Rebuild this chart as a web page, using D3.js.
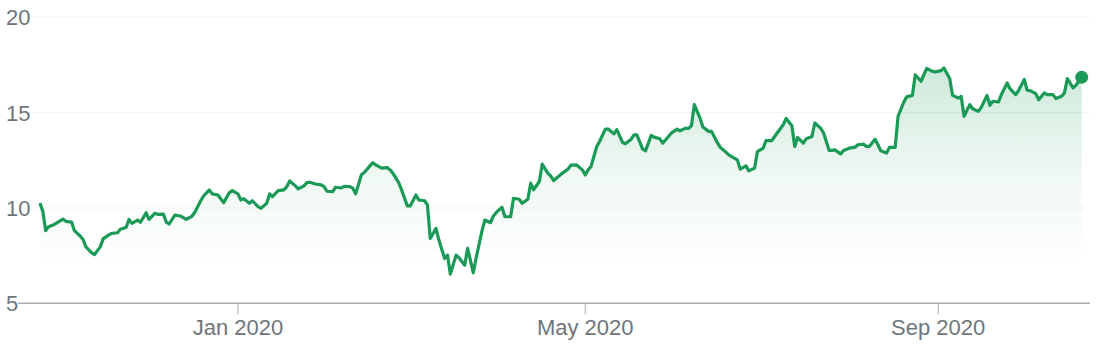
<!DOCTYPE html>
<html><head><meta charset="utf-8">
<script src="https://cdn.jsdelivr.net/npm/d3@7"></script>
<style>
html,body{margin:0;padding:0;background:#fff;}
svg{display:block;font-family:"Liberation Sans",Arial,sans-serif;}
</style></head>
<body><svg id="c" width="1099" height="348"></svg>
<script>
const dates = ["2019-10-24","2019-10-25","2019-10-26","2019-10-27","2019-10-29","2019-11-01","2019-11-02","2019-11-04","2019-11-05","2019-11-07","2019-11-08","2019-11-09","2019-11-11","2019-11-12","2019-11-14","2019-11-15","2019-11-17","2019-11-18","2019-11-20","2019-11-21","2019-11-23","2019-11-24","2019-11-25","2019-11-27","2019-11-28","2019-11-30","2019-12-01","2019-12-03","2019-12-04","2019-12-06","2019-12-07","2019-12-08","2019-12-10","2019-12-12","2019-12-14","2019-12-16","2019-12-17","2019-12-19","2019-12-20","2019-12-22","2019-12-23","2019-12-25","2019-12-27","2019-12-29","2019-12-30","2020-01-01","2020-01-02","2020-01-03","2020-01-05","2020-01-06","2020-01-08","2020-01-09","2020-01-11","2020-01-12","2020-01-13","2020-01-15","2020-01-17","2020-01-18","2020-01-19","2020-01-21","2020-01-22","2020-01-24","2020-01-25","2020-01-26","2020-01-28","2020-01-30","2020-01-31","2020-02-01","2020-02-03","2020-02-04","2020-02-06","2020-02-07","2020-02-09","2020-02-10","2020-02-11","2020-02-13","2020-02-14","2020-02-16","2020-02-17","2020-02-18","2020-02-20","2020-02-22","2020-02-23","2020-02-24","2020-02-26","2020-02-27","2020-02-29","2020-03-01","2020-03-03","2020-03-04","2020-03-06","2020-03-07","2020-03-08","2020-03-10","2020-03-11","2020-03-13","2020-03-14","2020-03-15","2020-03-17","2020-03-18","2020-03-20","2020-03-21","2020-03-23","2020-03-24","2020-03-26","2020-03-27","2020-03-29","2020-03-30","2020-03-31","2020-04-02","2020-04-03","2020-04-05","2020-04-06","2020-04-08","2020-04-09","2020-04-11","2020-04-12","2020-04-13","2020-04-15","2020-04-16","2020-04-18","2020-04-19","2020-04-20","2020-04-23","2020-04-25","2020-04-26","2020-04-28","2020-04-30","2020-05-01","2020-05-02","2020-05-03","2020-05-05","2020-05-06","2020-05-08","2020-05-09","2020-05-11","2020-05-12","2020-05-14","2020-05-15","2020-05-17","2020-05-18","2020-05-19","2020-05-21","2020-05-22","2020-05-24","2020-05-25","2020-05-27","2020-05-28","2020-05-30","2020-05-31","2020-06-02","2020-06-03","2020-06-05","2020-06-06","2020-06-07","2020-06-08","2020-06-10","2020-06-11","2020-06-13","2020-06-14","2020-06-16","2020-06-17","2020-06-19","2020-06-20","2020-06-21","2020-06-23","2020-06-24","2020-06-26","2020-06-27","2020-06-29","2020-06-30","2020-07-02","2020-07-03","2020-07-05","2020-07-06","2020-07-07","2020-07-09","2020-07-10","2020-07-12","2020-07-13","2020-07-14","2020-07-16","2020-07-17","2020-07-19","2020-07-20","2020-07-22","2020-07-23","2020-07-25","2020-07-26","2020-07-27","2020-07-29","2020-07-30","2020-08-01","2020-08-03","2020-08-04","2020-08-06","2020-08-07","2020-08-08","2020-08-10","2020-08-11","2020-08-12","2020-08-14","2020-08-15","2020-08-17","2020-08-18","2020-08-20","2020-08-21","2020-08-23","2020-08-24","2020-08-26","2020-08-27","2020-08-28","2020-08-30","2020-08-31","2020-09-02","2020-09-03","2020-09-05","2020-09-06","2020-09-08","2020-09-09","2020-09-10","2020-09-12","2020-09-13","2020-09-15","2020-09-16","2020-09-18","2020-09-19","2020-09-20","2020-09-22","2020-09-23","2020-09-25","2020-09-26","2020-09-28","2020-09-29","2020-10-01","2020-10-02","2020-10-03","2020-10-05","2020-10-06","2020-10-08","2020-10-09","2020-10-11","2020-10-12","2020-10-14","2020-10-15","2020-10-16","2020-10-18","2020-10-19","2020-10-21"];
const prices = [10.26,9.81,8.81,9.02,9.14,9.42,9.30,9.26,8.81,8.53,8.35,7.96,7.65,7.56,7.96,8.38,8.59,8.67,8.70,8.88,8.98,9.40,9.19,9.37,9.25,9.75,9.40,9.72,9.67,9.68,9.26,9.16,9.63,9.58,9.40,9.58,9.79,10.38,10.63,10.95,10.74,10.68,10.28,10.81,10.91,10.74,10.42,10.49,10.25,10.38,10.07,9.98,10.25,10.74,10.60,10.91,10.95,11.12,11.42,11.16,11.00,11.16,11.33,11.35,11.26,11.21,11.12,10.88,10.86,11.09,11.05,11.14,11.12,11.04,10.74,11.74,11.86,12.21,12.38,12.26,12.09,12.12,12.00,11.82,11.33,10.95,10.11,10.11,10.68,10.42,10.38,10.16,8.40,8.93,8.32,7.35,7.53,6.53,7.53,7.39,7.00,7.88,6.60,7.40,8.79,9.37,9.23,9.58,9.77,10.04,9.54,9.54,10.51,10.46,10.25,10.46,11.30,10.95,11.39,12.30,11.82,11.68,11.44,11.82,12.04,12.25,12.26,12.00,11.74,12.00,12.18,13.23,13.49,14.14,14.14,13.89,14.11,13.44,13.37,13.61,13.84,13.84,13.09,13.00,13.81,13.72,13.63,13.40,13.75,13.93,14.14,14.05,14.19,14.17,14.32,15.42,14.72,14.25,14.02,14.02,13.44,13.19,12.93,12.79,12.70,12.53,12.04,12.21,11.95,12.09,12.96,13.14,13.54,13.54,13.75,13.96,14.37,14.70,14.32,13.23,13.70,13.40,13.63,13.75,14.46,14.19,13.96,13.02,13.02,13.05,12.84,13.02,13.14,13.19,13.32,13.35,13.23,13.23,13.61,13.32,13.00,12.88,13.18,13.18,14.81,15.55,15.83,15.91,16.99,16.65,16.99,17.32,17.17,17.14,17.21,17.35,16.79,15.91,15.77,15.86,14.81,15.42,15.21,15.07,15.28,15.91,15.39,15.60,15.56,15.95,16.56,16.26,15.95,16.16,16.74,16.17,16.16,16.00,15.68,16.04,15.95,15.95,15.74,15.86,16.04,16.79,16.30,16.44,16.86];
const yTicks = [5, 10, 15, 20];
const xTickDates = ["2020-01-01", "2020-05-01", "2020-09-01"];
const xTickLabels = ["Jan 2020", "May 2020", "Sep 2020"];

const parse = d3.timeParse("%Y-%m-%d");
const data = dates.map((d, i) => ({ date: parse(d), value: prices[i] }));

const svg = d3.select("#c");
const green = "#1a9a56";

const x = d3.scaleTime()
  .domain(d3.extent(data, d => d.date))
  .range([40, 1081.7]);
const y = d3.scaleLinear().domain([5, 20]).range([303.3, 17.4]);

const defs = svg.append("defs");
const grad = defs.append("linearGradient")
  .attr("id", "fillGrad").attr("gradientUnits", "userSpaceOnUse")
  .attr("x1", 0).attr("x2", 0).attr("y1", y(17.5)).attr("y2", y(5));
grad.append("stop").attr("offset", "0%").attr("stop-color", green).attr("stop-opacity", 0.22);
grad.append("stop").attr("offset", "45%").attr("stop-color", green).attr("stop-opacity", 0.07);
grad.append("stop").attr("offset", "85%").attr("stop-color", green).attr("stop-opacity", 0);

// gridlines
svg.append("g").selectAll("line")
  .data(yTicks.filter(t => t !== 5))
  .join("line")
  .attr("x1", 32).attr("x2", 1090)
  .attr("y1", d => y(d)).attr("y2", d => y(d))
  .attr("stroke", "#f1f3f4").attr("stroke-width", 1.2);

// y labels
svg.append("g").selectAll("text")
  .data(yTicks)
  .join("text")
  .attr("x", 6).attr("y", d => y(d) + 8)
  .attr("fill", "#70757a").attr("font-size", 22)
  .text(d => d);

// area
const area = d3.area().x(d => x(d.date)).y0(y(5)).y1(d => y(d.value));
svg.append("path").datum(data).attr("d", area).attr("fill", "url(#fillGrad)");

// baseline
svg.append("line").attr("x1", 18).attr("x2", 1090)
  .attr("y1", y(5)).attr("y2", y(5))
  .attr("stroke", "#a9acb0").attr("stroke-width", 1.5);

// x ticks
const xg = svg.append("g").selectAll("g")
  .data(xTickDates.map((d, i) => ({ date: parse(d), label: xTickLabels[i] })))
  .join("g");
xg.append("line")
  .attr("x1", d => x(d.date)).attr("x2", d => x(d.date))
  .attr("y1", y(5)).attr("y2", y(5) + 11)
  .attr("stroke", "#a9acb0").attr("stroke-width", 1);
xg.append("text")
  .attr("x", d => x(d.date)).attr("y", 335)
  .attr("text-anchor", "middle")
  .attr("fill", "#70757a").attr("font-size", 22)
  .text(d => d.label);

// line
const line = d3.line().x(d => x(d.date)).y(d => y(d.value));
svg.append("path").datum(data).attr("d", line)
  .attr("fill", "none").attr("stroke", green)
  .attr("stroke-width", 3.2).attr("stroke-linejoin", "round");

// end dot
const last = data[data.length - 1];
svg.append("circle").attr("cx", x(last.date)).attr("cy", y(last.value))
  .attr("r", 6.5).attr("fill", green);
</script></body></html>
